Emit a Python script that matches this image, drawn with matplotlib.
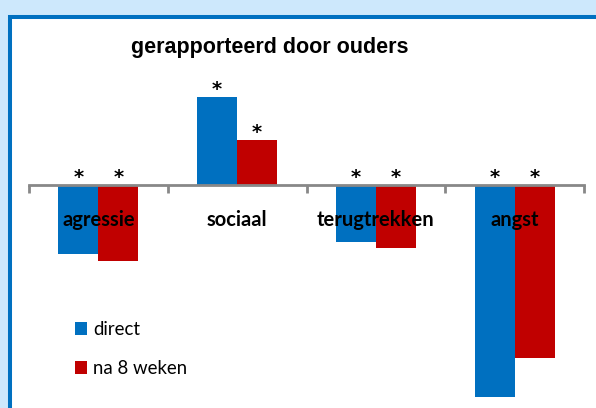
import matplotlib
matplotlib.use("Agg")
import matplotlib.pyplot as plt
from matplotlib.patches import Rectangle
import numpy as np

categories = ["agressie", "sociaal", "terugtrekken", "angst"]
direct = [-0.34, 0.44, -0.28, -1.055]
na_8_weken = [-0.375, 0.225, -0.315, -0.86]
series_names = ["direct", "na 8 weken"]
title = "gerapporteerd door ouders"

blue = "#0070C0"
red = "#C00000"

fig = plt.figure(figsize=(5.96, 4.08), dpi=100, facecolor="#CDE8FC")

# white panel with blue frame (like the slide box)
panel = Rectangle((10 / 596, -0.1), 1.1, 1.1 - 17 / 408, transform=fig.transFigure,
                  facecolor="white", edgecolor=blue, linewidth=2.9, zorder=-5)
fig.patches.append(panel)

ax = fig.add_axes([29 / 596, 3 / 408, 555 / 596, 335 / 408])
ax.set_facecolor("none")
ax.set_zorder(2)

x = np.arange(len(categories))
w = 0.288
b1 = ax.bar(x - w / 2, direct, w, color=blue, label=series_names[0], zorder=2)
b2 = ax.bar(x + w / 2, na_8_weken, w, color=red, label=series_names[1], zorder=2)

ax.set_xlim(-0.5, len(categories) - 0.5)
ax.set_ylim(-1.0975, 0.5775)

for s in ["top", "right", "left"]:
    ax.spines[s].set_visible(False)
ax.spines["bottom"].set_position(("data", 0))
ax.spines["bottom"].set_color("#888888")
ax.spines["bottom"].set_linewidth(2)
ax.spines["bottom"].set_zorder(3)
ax.set_yticks([])
ax.set_xticks(np.arange(len(categories) + 1) - 0.5)
ax.set_xticklabels([])
ax.tick_params(axis="x", direction="out", length=6, width=2, color="#888888")

# category labels over the bars
for xi, name in zip(x, categories):
    ax.text(xi, -0.1725, name, ha="center", va="center", fontsize=14.5,
            fontweight="bold", family="Lato", zorder=4)

# significance stars
for xi, v1, v2 in zip(x, direct, na_8_weken):
    for off, v in [(-w / 2, v1), (w / 2, v2)]:
        ax.annotate("*", (xi + off, max(v, 0)), xytext=(0, 1.8),
                    textcoords="offset points", ha="center", va="baseline",
                    fontsize=14, fontweight="bold", family="DejaVu Sans", zorder=4)

fig.text(0.452, 1 - 48 / 408, title, ha="center", va="center", fontsize=15.5,
         fontweight="bold", family=["Liberation Sans Narrow", "Liberation Sans"])

leg = ax.legend(loc="center left", bbox_to_anchor=(58 / 596, 1 - 349 / 408),
                bbox_transform=fig.transFigure, frameon=False,
                handlelength=0.65, handleheight=0.65, handletextpad=0.35,
                labelspacing=1.2, prop={"family": "Lato", "size": 13.4})

fig.savefig("out.png", dpi=100, facecolor=fig.get_facecolor())
